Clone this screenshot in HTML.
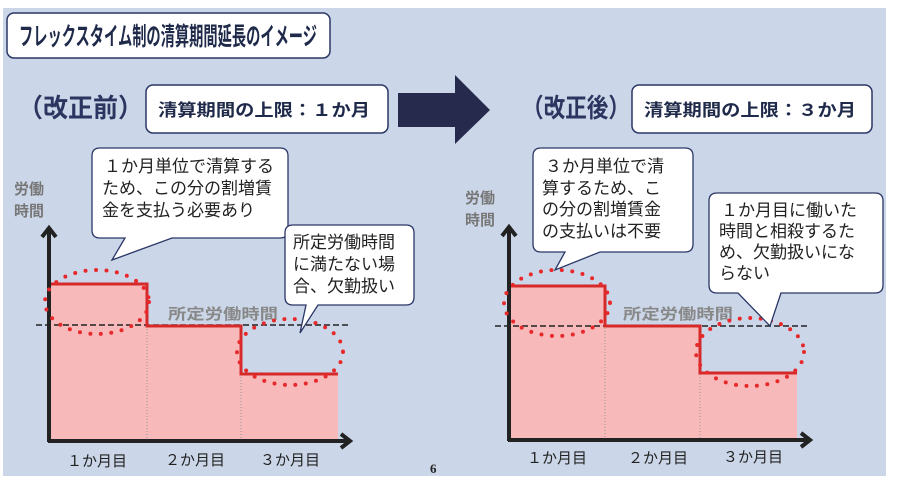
<!DOCTYPE html>
<html><head><meta charset="utf-8"><style>
html,body{margin:0;padding:0;background:#fff;width:901px;height:484px;overflow:hidden}
svg{display:block}
text{font-family:"Liberation Sans","Noto Sans CJK JP",sans-serif}
</style></head><body>
<svg width="901" height="484" viewBox="0 0 901 484">
<rect x="3" y="8" width="883" height="468" fill="#cbd7e8"/>
<!-- title -->
<rect x="7" y="13" width="323" height="45" rx="7" fill="#fff" stroke="#2b3766" stroke-width="1.5"/>
<text x="19" y="45" font-size="25" font-weight="bold" fill="#1f2a4a" textLength="298" lengthAdjust="spacingAndGlyphs">フレックスタイム制の清算期間延長のイメージ</text>
<!-- before -->
<text x="18" y="117" font-size="26" font-weight="bold" fill="#2b3560" textLength="125" lengthAdjust="spacingAndGlyphs">（改正前）</text>
<rect x="146" y="85" width="242" height="48" rx="7" fill="#fff" stroke="#2b3766" stroke-width="1.5"/>
<text x="158" y="116" font-size="17" font-weight="bold" fill="#1f2a4a" textLength="212" lengthAdjust="spacingAndGlyphs">清算期間の上限：１か月</text>
<polygon points="398,93 455,93 455,75 490,110 455,144 455,127 398,127" fill="#262b4d"/>
<text x="522" y="117" font-size="26" font-weight="bold" fill="#2b3560" textLength="108" lengthAdjust="spacingAndGlyphs">（改正後）</text>
<rect x="632" y="85" width="240" height="48" rx="7" fill="#fff" stroke="#2b3766" stroke-width="1.5"/>
<text x="644" y="116" font-size="17" font-weight="bold" fill="#1f2a4a" textLength="212" lengthAdjust="spacingAndGlyphs">清算期間の上限：３か月</text>

<!-- LEFT CHART -->
<text x="14" y="194" font-size="15" font-weight="bold" fill="#777">労働</text>
<text x="14" y="216" font-size="15" font-weight="bold" fill="#777">時間</text>
<polygon points="49,284 147,284 147,326 241,326 241,374 338,374 338,441 49,441" fill="#f7b9b9"/>
<line x1="147" y1="284" x2="147" y2="441" stroke="#999" stroke-dasharray="1,2"/>
<line x1="241" y1="326" x2="241" y2="441" stroke="#999" stroke-dasharray="1,2"/>
<line x1="36" y1="325" x2="349" y2="325" stroke="#222" stroke-width="1.5" stroke-dasharray="6,3"/>
<polyline points="51,284 147,284 147,326 241,326 241,374 338,374" fill="none" stroke="#d62a2a" stroke-width="3"/>
<line x1="49" y1="442" x2="49" y2="230" stroke="#222" stroke-width="4"/>
<polyline points="42,237 49,228 56,237" fill="none" stroke="#222" stroke-width="4"/>
<line x1="48" y1="441" x2="350" y2="441" stroke="#222" stroke-width="4"/>
<polyline points="341,434 350,441 341,448" fill="none" stroke="#222" stroke-width="4"/>
<text x="168" y="319" font-size="15" font-weight="bold" fill="#888" textLength="110" lengthAdjust="spacingAndGlyphs">所定労働時間</text>
<ellipse cx="97" cy="302" rx="52" ry="32" fill="none" stroke="#e8292b" stroke-width="4" stroke-linecap="round" stroke-dasharray="0,10.5"/>
<ellipse cx="290" cy="352" rx="53" ry="33" fill="none" stroke="#e8292b" stroke-width="4" stroke-linecap="round" stroke-dasharray="0,10.5"/>
<path d="M100,148 H280 Q288,148 288,156 V230 Q288,238 280,238 H172 L112,260 L125,238 H100 Q92,238 92,230 V156 Q92,148 100,148Z" fill="#fff" stroke="#2b3766" stroke-width="1.3"/>
<text font-size="17" fill="#222"><tspan x="104" y="172">１か月単位で清算する</tspan><tspan x="102" y="194">ため、この分の割増賃</tspan><tspan x="102" y="216">金を支払う必要あり</tspan></text>
<path d="M293,225 H406 Q414,225 414,233 V297 Q414,305 406,305 H318 L300,333 L306,305 H293 Q285,305 285,297 V233 Q285,225 293,225Z" fill="#fff" stroke="#2b3766" stroke-width="1.3"/>
<text font-size="17" fill="#222"><tspan x="293" y="248">所定労働時間</tspan><tspan x="293" y="270">に満たない場</tspan><tspan x="293" y="292">合、欠勤扱い</tspan></text>
<text font-size="15" fill="#222"><tspan x="67" y="466">１か月目</tspan><tspan x="165" y="465">２か月目</tspan><tspan x="260" y="465">３か月目</tspan></text>
<text x="430" y="473" font-size="13" style="font-family:'Liberation Serif',serif" font-weight="bold" fill="#222">6</text>

<!-- RIGHT CHART -->
<text x="465" y="203" font-size="15" font-weight="bold" fill="#777">労働</text>
<text x="465" y="225" font-size="15" font-weight="bold" fill="#777">時間</text>
<polygon points="509,286 605,286 605,326 700,326 700,373 797,373 797,440 509,440" fill="#f7b9b9"/>
<line x1="605" y1="286" x2="605" y2="440" stroke="#999" stroke-dasharray="1,2"/>
<line x1="700" y1="326" x2="700" y2="440" stroke="#999" stroke-dasharray="1,2"/>
<line x1="495" y1="326" x2="808" y2="326" stroke="#222" stroke-width="1.5" stroke-dasharray="6,3"/>
<polyline points="511,286 605,286 605,326 700,326 700,373 797,373" fill="none" stroke="#d62a2a" stroke-width="3"/>
<line x1="509" y1="441" x2="509" y2="229" stroke="#222" stroke-width="4"/>
<polyline points="502,236 509,227 516,236" fill="none" stroke="#222" stroke-width="4"/>
<line x1="508" y1="440" x2="810" y2="440" stroke="#222" stroke-width="4"/>
<polyline points="801,433 810,440 801,447" fill="none" stroke="#222" stroke-width="4"/>
<text x="623" y="319" font-size="15" font-weight="bold" fill="#888" textLength="110" lengthAdjust="spacingAndGlyphs">所定労働時間</text>
<ellipse cx="557" cy="303" rx="53" ry="33" fill="none" stroke="#e8292b" stroke-width="4" stroke-linecap="round" stroke-dasharray="0,10.5"/>
<ellipse cx="750" cy="352" rx="54" ry="34" fill="none" stroke="#e8292b" stroke-width="4" stroke-linecap="round" stroke-dasharray="0,10.5"/>
<path d="M541,148 H685 Q693,148 693,156 V244 Q693,252 685,252 H600 L555,270 L565,252 H541 Q533,252 533,244 V156 Q533,148 541,148Z" fill="#fff" stroke="#2b3766" stroke-width="1.3"/>
<text font-size="17" fill="#222"><tspan x="545" y="172">３か月単位で清</tspan><tspan x="542" y="194">算するため、こ</tspan><tspan x="542" y="215">の分の割増賃金</tspan><tspan x="542" y="237">の支払いは不要</tspan></text>
<path d="M717,193 H875 Q883,193 883,201 V285 Q883,293 875,293 H781 L770,326 L738,293 H717 Q709,293 709,285 V201 Q709,193 717,193Z" fill="#fff" stroke="#2b3766" stroke-width="1.3"/>
<text font-size="17" fill="#222"><tspan x="721" y="216">１か月目に働いた</tspan><tspan x="719" y="237">時間と相殺するた</tspan><tspan x="719" y="258">め、欠勤扱いにな</tspan><tspan x="719" y="279">らない</tspan></text>
<text font-size="15" fill="#222"><tspan x="527" y="463">１か月目</tspan><tspan x="628" y="463">２か月目</tspan><tspan x="723" y="462">３か月目</tspan></text>
<rect x="886" y="0" width="15" height="484" fill="#fff"/>
</svg>
</body></html>
